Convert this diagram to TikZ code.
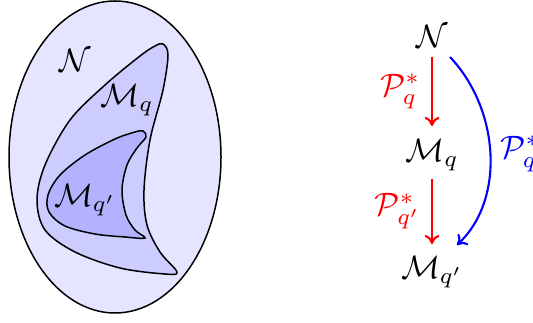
\documentclass[tikz,border=0pt]{standalone}
\usetikzlibrary{arrows.meta}
\begin{document}
\begin{tikzpicture}[x=0.3333pt,y=-0.3333pt,
  region/.style={draw=black, line width=0.5pt},
  lbl/.style={inner sep=0pt, scale=1.08},
  redarrow/.style={draw=red, line width=0.7pt, -{To[length=3pt,width=5pt]}},
  bluearrow/.style={draw=blue, line width=0.7pt, -{To[length=3pt,width=5pt]}}]
\useasboundingbox (0,0) rectangle (533,323);
% left: nested regions
\path[region, fill=blue!10] (115,157) ellipse [x radius=106, y radius=156];
\path[region, fill=blue!20] plot[smooth cycle, tension=0.55] coordinates {
 (163,44) (168,55) (163,90) (150,140) (144,190) (147,225) (160,252) (177,272)
 (165,274) (120,268) (75,252) (45,230) (37,200) (45,165) (70,120) (105,85) (140,56) (155,46)};
\path[region, fill=blue!30] plot[smooth cycle, tension=0.55] coordinates {
 (143,131) (146,137) (137,148) (127,165) (122,190) (126,215) (135,230) (145,238)
 (125,237) (95,234) (65,226) (49,212) (48,195) (60,175) (85,155) (115,139) (135,132)};
\node[lbl] (lN) at (75,60) {$\mathcal{N}$};
\node[lbl] (lMq) at (127,100) {$\mathcal{M}_q$};
\node[lbl] (lMqp) at (85,200) {$\mathcal{M}_{q'}$};
% right: diagram
\node[lbl] (N) at (432,36) {$\mathcal{N}$};
\node[lbl] (Mq) at (432,155) {$\mathcal{M}_q$};
\node[lbl] (Mqp) at (432,272) {$\mathcal{M}_{q'}$};
\coordinate (a1s) at (433,57);
\coordinate (a1e) at (433,126);
\coordinate (a2s) at (433,179);
\coordinate (a2e) at (433,244);
\draw[redarrow] (N.south |- a1s) -- (Mq.north |- a1e) node[midway, left=3.5pt, text=red, lbl] (P1) {$\mathcal{P}_q^*$};
\draw[redarrow] (Mq.south |- a2s) -- (Mqp.north |- a2e) node[midway, left=3.5pt, text=red, lbl] (P2) {$\mathcal{P}_{q'}^*$};
\coordinate (bs) at (450,57);
\coordinate (be) at (457,245);
\draw[bluearrow] (bs) .. controls (500,110) and (505,200) .. (be) node[pos=0.5, right=3pt, text=blue, lbl] (P3) {$\mathcal{P}_{q'}^*$};
\end{tikzpicture}
\end{document}
